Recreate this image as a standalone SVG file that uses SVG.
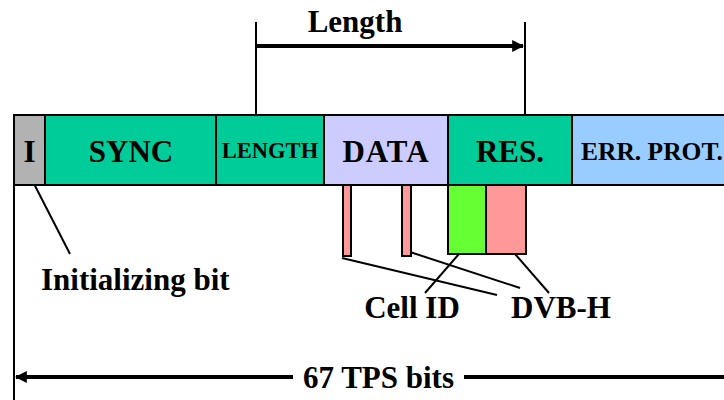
<svg xmlns="http://www.w3.org/2000/svg" width="724" height="400" viewBox="0 0 724 400">
<defs>
<style>
.t{font-family:"Liberation Serif","Times New Roman",serif;font-weight:bold;fill:#000}
.cell{stroke:#000;stroke-width:2}
.ln{stroke:#000;stroke-width:2;fill:none}
.thick{stroke:#000;stroke-width:4;fill:none}
</style>
<marker id="ah" viewBox="0 0 10 10" refX="9" refY="5" markerWidth="3" markerHeight="3" orient="auto-start-reverse" markerUnits="strokeWidth">
<path d="M0,0 L10,5 L0,10 z" fill="#000"/>
</marker>
</defs>
<rect width="724" height="400" fill="#fff"/>
<g id="connectors">
<line class="ln" x1="256" y1="22" x2="256" y2="115"/>
<line class="ln" x1="525" y1="22" x2="525" y2="115"/>
<line class="thick" x1="257" y1="46" x2="523" y2="46" marker-end="url(#ah)"/>
<line class="ln" x1="14" y1="185" x2="14" y2="400"/>
<line class="thick" x1="16" y1="377" x2="293" y2="377" marker-start="url(#ah)"/>
<line class="thick" x1="464" y1="377" x2="724" y2="377"/>
<line class="ln" x1="30" y1="176" x2="70" y2="254"/>
<line class="ln" x1="342" y1="258" x2="497" y2="295"/>
<line class="ln" x1="410" y1="252" x2="520" y2="288"/>
<line class="ln" x1="472" y1="239" x2="425" y2="293"/>
<line class="ln" x1="502" y1="239" x2="549" y2="293"/>
</g>
<g id="bar">
<rect class="cell" x="14" y="115" width="31" height="70" fill="#b2b2b2"/>
<rect class="cell" x="45" y="115" width="171" height="70" fill="#00cc99"/>
<rect class="cell" x="216" y="115" width="108" height="70" fill="#00cc99"/>
<rect class="cell" x="324" y="115" width="124" height="70" fill="#ccccff"/>
<rect class="cell" x="448" y="115" width="124" height="70" fill="#00cc99"/>
<rect class="cell" x="572" y="115" width="160" height="70" fill="#99ccff"/>
<text class="t" x="29.5" y="162" font-size="31" text-anchor="middle">I</text>
<text class="t" x="131" y="162" font-size="31" text-anchor="middle">SYNC</text>
<text class="t" x="270" y="158" font-size="22.5" text-anchor="middle">LENGTH</text>
<text class="t" x="386" y="162" font-size="31" text-anchor="middle" letter-spacing="1">DATA</text>
<text class="t" x="510" y="162" font-size="31" text-anchor="middle">RES.</text>
<text class="t" x="581" y="160" font-size="25.5">ERR. PROT.</text>
</g>
<g id="bits">
<rect class="cell" x="343" y="185" width="8" height="71" fill="#ff9999"/>
<rect class="cell" x="402" y="185" width="9" height="71" fill="#ff9999"/>
<rect class="cell" x="448" y="185" width="38" height="69" fill="#66ff33"/>
<rect class="cell" x="486" y="185" width="40" height="69" fill="#ff9999"/>
</g>
<g id="labels">
<text class="t" x="355" y="32" font-size="31" text-anchor="middle">Length</text>
<text class="t" x="41" y="290" font-size="31">Initializing bit</text>
<text class="t" x="412" y="318" font-size="31" text-anchor="middle">Cell ID</text>
<text class="t" x="561" y="318" font-size="31" text-anchor="middle">DVB-H</text>
<text class="t" x="378.5" y="388" font-size="31" text-anchor="middle">67 TPS bits</text>
</g>
</svg>
